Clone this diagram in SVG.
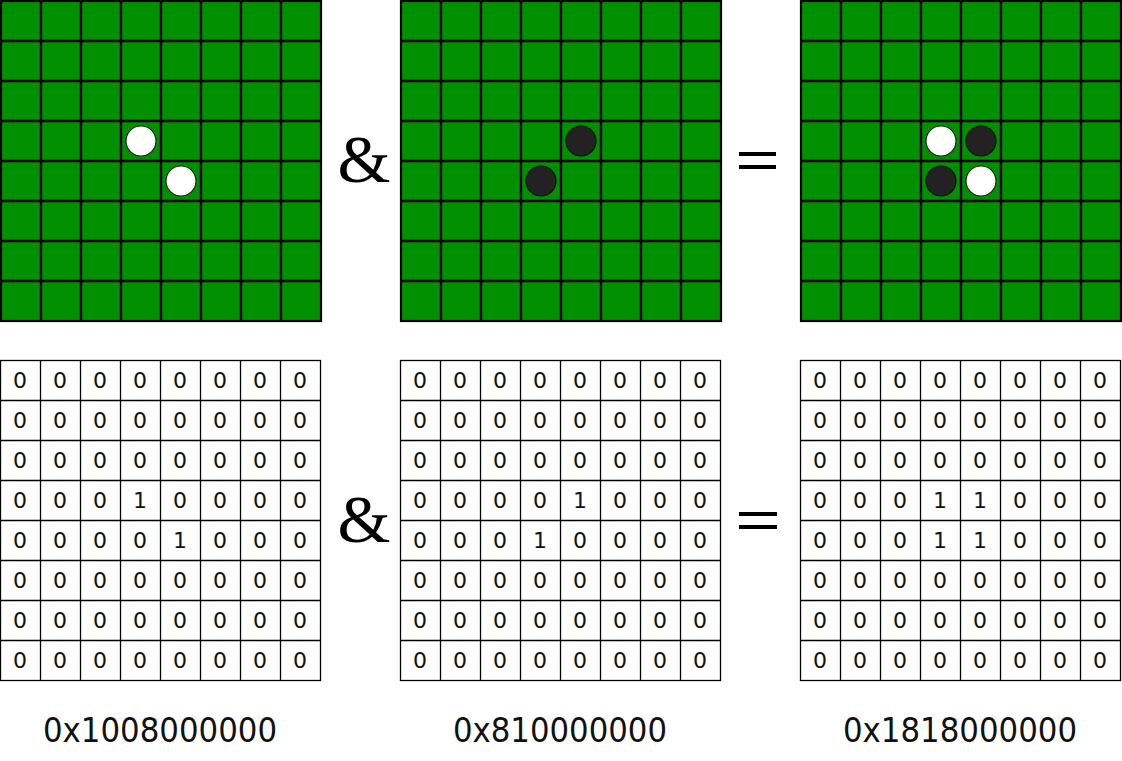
<svg xmlns="http://www.w3.org/2000/svg" width="1122" height="761" viewBox="0 0 1122 761">
<defs>
<style>
.board{fill:#009000;stroke:#000;stroke-width:2.2}
.gl{stroke:#000;stroke-width:2.4}
.nl{stroke:#000;stroke-width:1.3;fill:none}
.w{fill:#fff;stroke:#222;stroke-width:1.2}
.b{fill:#222;stroke:#111;stroke-width:1.2}
.d{font-family:"DejaVu Sans",Verdana,sans-serif;font-size:22px;text-anchor:middle;fill:#111}
.hex{font-family:"DejaVu Sans",Verdana,sans-serif;font-size:33px;text-anchor:middle;fill:#111}
.amp{font-family:"Liberation Serif","Times New Roman",serif;font-size:68px;text-anchor:middle;fill:#000}
.eq{fill:#000}
</style>
<g id="bgrid">
<rect class="board" x="1" y="1" width="320" height="320"/>
<path class="gl" d="M41 1V321M81 1V321M121 1V321M161 1V321M201 1V321M241 1V321M281 1V321M1 41H321M1 81H321M1 121H321M1 161H321M1 201H321M1 241H321M1 281H321"/>
</g>
<g id="ngrid">
<rect class="nl" x="0.5" y="360.5" width="320" height="320"/>
<path class="nl" d="M40.5 360.5V680.5M80.5 360.5V680.5M120.5 360.5V680.5M160.5 360.5V680.5M200.5 360.5V680.5M240.5 360.5V680.5M280.5 360.5V680.5M0.5 400.5H320.5M0.5 440.5H320.5M0.5 480.5H320.5M0.5 520.5H320.5M0.5 560.5H320.5M0.5 600.5H320.5M0.5 640.5H320.5"/>
</g>
<g id="zrow">
<text class="d" x="20" y="0">0</text><text class="d" x="60" y="0">0</text><text class="d" x="100" y="0">0</text><text class="d" x="140" y="0">0</text><text class="d" x="180" y="0">0</text><text class="d" x="220" y="0">0</text><text class="d" x="260" y="0">0</text><text class="d" x="300" y="0">0</text>
</g>
</defs>
<rect width="1122" height="761" fill="#fff"/>

<g id="board-white">
<use href="#bgrid"/>
<circle class="w" cx="141" cy="141" r="15"/>
<circle class="w" cx="181" cy="181" r="15"/>
</g>
<g id="board-black">
<use href="#bgrid" x="400"/>
<circle class="b" cx="581" cy="141" r="15"/>
<circle class="b" cx="541" cy="181" r="15"/>
</g>
<g id="board-result">
<use href="#bgrid" x="800"/>
<circle class="w" cx="941" cy="141" r="15"/>
<circle class="b" cx="981" cy="141" r="15"/>
<circle class="b" cx="941" cy="181" r="15"/>
<circle class="w" cx="981" cy="181" r="15"/>
</g>

<g id="connectors">
<text class="amp" x="364" y="182">&amp;</text>
<rect class="eq" x="739" y="152" width="37" height="4"/>
<rect class="eq" x="739" y="165" width="37" height="4"/>
<text class="amp" x="364" y="542">&amp;</text>
<rect class="eq" x="739" y="512" width="38" height="4"/>
<rect class="eq" x="739" y="525" width="38" height="4"/>
</g>

<g id="bits-white">
<use href="#ngrid"/>
<use href="#zrow" y="388"/><use href="#zrow" y="428"/><use href="#zrow" y="468"/>
<g transform="translate(0,508)"><text class="d" x="20" y="0">0</text><text class="d" x="60" y="0">0</text><text class="d" x="100" y="0">0</text><text class="d" x="140" y="0">1</text><text class="d" x="180" y="0">0</text><text class="d" x="220" y="0">0</text><text class="d" x="260" y="0">0</text><text class="d" x="300" y="0">0</text></g>
<g transform="translate(0,548)"><text class="d" x="20" y="0">0</text><text class="d" x="60" y="0">0</text><text class="d" x="100" y="0">0</text><text class="d" x="140" y="0">0</text><text class="d" x="180" y="0">1</text><text class="d" x="220" y="0">0</text><text class="d" x="260" y="0">0</text><text class="d" x="300" y="0">0</text></g>
<use href="#zrow" y="588"/><use href="#zrow" y="628"/><use href="#zrow" y="668"/>
<text class="hex" x="160" y="742" textLength="234" lengthAdjust="spacingAndGlyphs">0x1008000000</text>
</g>

<g id="bits-black" transform="translate(400,0)">
<use href="#ngrid"/>
<use href="#zrow" y="388"/><use href="#zrow" y="428"/><use href="#zrow" y="468"/>
<g transform="translate(0,508)"><text class="d" x="20" y="0">0</text><text class="d" x="60" y="0">0</text><text class="d" x="100" y="0">0</text><text class="d" x="140" y="0">0</text><text class="d" x="180" y="0">1</text><text class="d" x="220" y="0">0</text><text class="d" x="260" y="0">0</text><text class="d" x="300" y="0">0</text></g>
<g transform="translate(0,548)"><text class="d" x="20" y="0">0</text><text class="d" x="60" y="0">0</text><text class="d" x="100" y="0">0</text><text class="d" x="140" y="0">1</text><text class="d" x="180" y="0">0</text><text class="d" x="220" y="0">0</text><text class="d" x="260" y="0">0</text><text class="d" x="300" y="0">0</text></g>
<use href="#zrow" y="588"/><use href="#zrow" y="628"/><use href="#zrow" y="668"/>
<text class="hex" x="160" y="742" textLength="214" lengthAdjust="spacingAndGlyphs">0x810000000</text>
</g>

<g id="bits-result" transform="translate(800,0)">
<use href="#ngrid"/>
<use href="#zrow" y="388"/><use href="#zrow" y="428"/><use href="#zrow" y="468"/>
<g transform="translate(0,508)"><text class="d" x="20" y="0">0</text><text class="d" x="60" y="0">0</text><text class="d" x="100" y="0">0</text><text class="d" x="140" y="0">1</text><text class="d" x="180" y="0">1</text><text class="d" x="220" y="0">0</text><text class="d" x="260" y="0">0</text><text class="d" x="300" y="0">0</text></g>
<g transform="translate(0,548)"><text class="d" x="20" y="0">0</text><text class="d" x="60" y="0">0</text><text class="d" x="100" y="0">0</text><text class="d" x="140" y="0">1</text><text class="d" x="180" y="0">1</text><text class="d" x="220" y="0">0</text><text class="d" x="260" y="0">0</text><text class="d" x="300" y="0">0</text></g>
<use href="#zrow" y="588"/><use href="#zrow" y="628"/><use href="#zrow" y="668"/>
<text class="hex" x="160" y="742" textLength="234" lengthAdjust="spacingAndGlyphs">0x1818000000</text>
</g>
</svg>
